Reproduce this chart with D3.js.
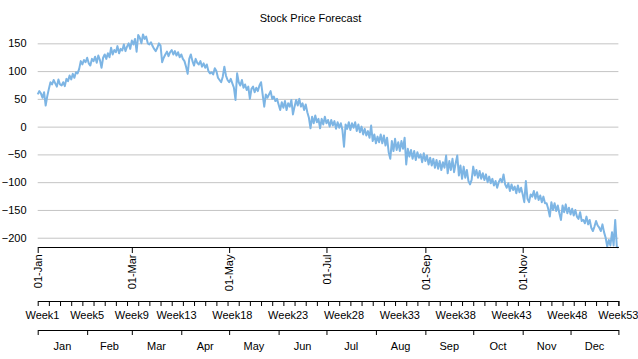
<!DOCTYPE html>
<html><head><meta charset="utf-8">
<script src="https://cdn.jsdelivr.net/npm/d3@7"></script>
<style>
body{margin:0;background:#fff}
svg{display:block;font-family:"Liberation Sans",Arial,sans-serif}
</style>
</head><body>
<svg id="c" width="638" height="359"></svg>
<script>
const chartTitle = "Stock Price Forecast";
const startYear = 2017;
const prices = [
58,64,60,52,62,38,55,68,80,76,
84,78,72,85,76,74,80,73,86,82,
92,85,95,88,98,96,104,118,112,120,
116,124,114,110,122,118,126,115,128,120,
106,124,130,122,132,125,142,130,138,134,
145,132,140,137,148,136,144,150,140,155,
148,158,135,165,160,150,166,158,162,150,
148,152,145,140,136,142,150,146,116,124,
130,135,127,134,138,130,136,128,134,125,
130,122,118,108,95,122,130,118,110,122,
115,112,118,108,114,106,112,100,96,98,
94,105,100,88,84,80,90,108,92,84,
80,86,78,70,48,96,80,74,84,70,
76,66,72,50,68,72,62,70,64,74,
80,58,36,58,52,58,64,50,54,46,
50,40,30,44,34,46,30,42,36,48,
22,36,48,38,50,36,42,30,40,26,
16,-3,18,6,20,8,14,-3,14,4,
18,6,12,0,12,2,10,-4,8,-2,
6,-6,-36,4,-4,8,-6,6,-2,8,
-8,4,-10,0,-14,-4,-16,-8,-20,2,
-26,-14,-30,-18,-28,-14,-30,-16,-34,-20,
-46,-58,-26,-44,-22,-42,-28,-44,-26,-40,
-20,-68,-40,-54,-42,-58,-44,-60,-46,-56,
-50,-64,-48,-62,-52,-68,-56,-70,-58,-74,
-60,-76,-62,-78,-64,-74,-52,-84,-62,-78,
-58,-82,-66,-52,-88,-70,-94,-72,-92,-78,
-98,-104,-96,-72,-88,-78,-92,-80,-94,-84,
-96,-86,-100,-90,-102,-94,-106,-98,-110,-100,
-94,-100,-86,-104,-110,-102,-116,-104,-114,-108,
-120,-106,-118,-110,-122,-136,-98,-130,-136,-122,
-126,-116,-130,-118,-132,-124,-136,-126,-138,-138,
-148,-162,-136,-150,-138,-152,-142,-156,-168,-142,
-154,-140,-156,-146,-158,-148,-160,-150,-162,-166,
-154,-170,-168,-174,-162,-176,-168,-182,-188,-180,
-170,-178,-182,-188,-176,-190,-200,-216,-204,-214,
-190,-214,-168,-216,-218
];
const yTicks = [-200,-150,-100,-50,0,50,100,150];
const yDomain = [-218, 167];
const weekLabels = [1,5,9,13,18,23,28,33,38,43,48,53];
const monthLabels = ["Jan","Feb","Mar","Apr","May","Jun","Jul","Aug","Sep","Oct","Nov","Dec"];

const svg = d3.select("#c");
const start = new Date(Date.UTC(startYear,0,1));
const dates = prices.map((_,i)=>d3.utcDay.offset(start,i));
const end = dates[dates.length-1];
const L = 37.7, R = 618.4;
const x = d3.scaleUtc().domain([start,end]).range([L,R]);
const y = d3.scaleLinear().domain(yDomain).range([247.7,33.9]);
const FONT = "'Liberation Sans', Arial, sans-serif";

// title
svg.append("text").attr("x",310.5).attr("y",18).attr("text-anchor","middle")
  .attr("dominant-baseline","central").attr("font-size",11).attr("fill","#000")
  .attr("font-family",FONT).text(chartTitle);

// y axis + grid
const yAxis = svg.append("g").attr("transform",`translate(${L},0)`)
  .call(d3.axisLeft(y).tickValues(yTicks).tickSize(-(R-L)).tickPadding(11.2).tickFormat(d3.format("d")));
yAxis.select(".domain").remove();
yAxis.selectAll(".tick line").attr("stroke","#c4c4c4");
yAxis.selectAll(".tick text").attr("font-size",11).attr("font-family",FONT).attr("fill","#000");

// line
svg.append("path").datum(prices)
  .attr("fill","none").attr("stroke","#7db5e4").attr("stroke-width",2)
  .attr("stroke-linejoin","round")
  .attr("d",d3.line().x((d,i)=>x(dates[i])).y(d=>y(d)));

// date axis
const dAx = svg.append("g").attr("transform","translate(0,247)")
  .call(d3.axisBottom(x).tickValues(d3.utcMonth.every(2).range(start,end)).tickSize(6).tickSizeOuter(0)
  .tickFormat(d3.utcFormat("%d-%b")));
dAx.attr("color","#000");
dAx.selectAll(".tick text").attr("font-size",11).attr("font-family",FONT).attr("fill","#000")
  .attr("transform","rotate(-90)").attr("x",-7.5).attr("y",0).attr("dy","0.35em").style("text-anchor","end");

// week axis
const weekBounds = d3.range(0, prices.length, 7).map(i=>d3.utcDay.offset(start,i));
const wAx = svg.append("g").attr("transform","translate(0,301)")
  .call(d3.axisBottom(x).tickValues(weekBounds.concat([end])).tickSize(5).tickSizeOuter(0).tickFormat(""));
wAx.attr("color","#000");
svg.append("g").selectAll("text").data(weekLabels).join("text")
  .attr("x",w=>x(d3.utcDay.offset(start,Math.min((w-1)*7+3, prices.length-1))))
  .attr("y",315).attr("dominant-baseline","central").attr("text-anchor","middle")
  .attr("font-size",11).attr("font-family",FONT).attr("fill","#000")
  .text(w=>"Week"+w);

// month axis
const monthStarts = d3.utcMonth.range(start, d3.utcDay.offset(end,1));
const mAx = svg.append("g").attr("transform","translate(0,330)")
  .call(d3.axisBottom(x).tickValues(monthStarts.concat([end])).tickSize(5).tickSizeOuter(0).tickFormat(""));
mAx.attr("color","#000");
svg.append("g").selectAll("text").data(monthLabels).join("text")
  .attr("x",(m,i)=>{const a=monthStarts[i]; const b=i+1<monthStarts.length?monthStarts[i+1]:end; return (x(a)+x(b))/2;})
  .attr("y",345.7).attr("dominant-baseline","central").attr("text-anchor","middle")
  .attr("font-size",11).attr("font-family",FONT).attr("fill","#000")
  .text(m=>m);
</script>
</body></html>
